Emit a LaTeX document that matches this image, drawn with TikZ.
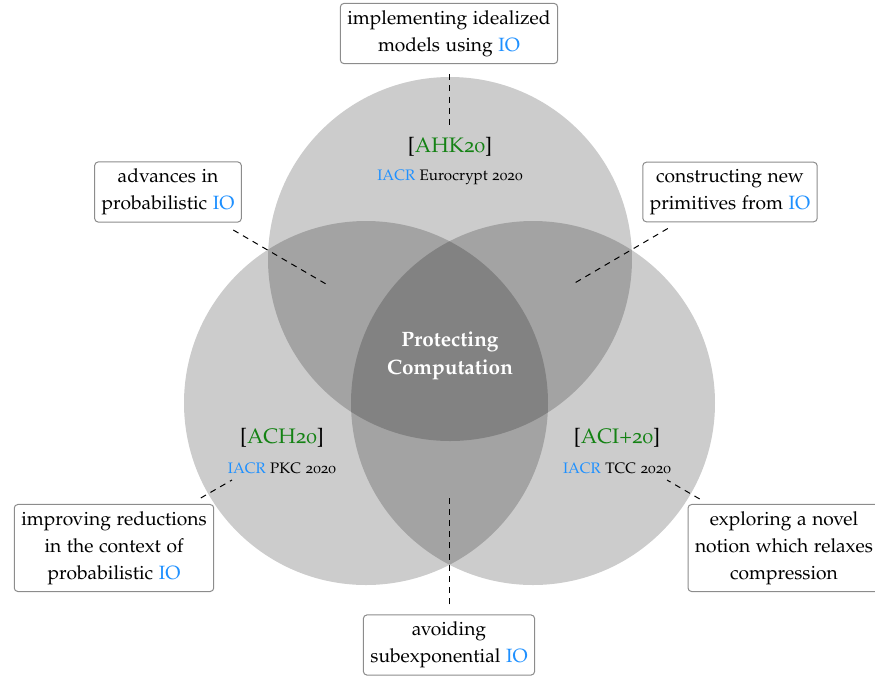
\documentclass[tikz,border=0pt]{standalone}
\usepackage[T1]{fontenc}
\usepackage[osf]{mathpazo}
\linespread{1.05}
\definecolor{linkblue}{RGB}{30,144,255}
\definecolor{refgreen}{RGB}{20,130,20}
\definecolor{boxgray}{RGB}{140,140,140}
\newcommand{\io}[1][IO]{\textcolor{linkblue}{#1}}
\tikzset{
  venn/.style={fill=black,fill opacity=0.2,draw=none},
  notebox/.style={draw=boxgray,line width=0.5pt,rounded corners=1.8pt,fill=white,
    align=center,inner xsep=3.5pt,inner ysep=3.5pt,
    font=\fontsize{9.6}{12.8}\selectfont},
  reflabel/.style={font=\fontsize{10.5}{12}\selectfont,inner sep=0pt},
  venue/.style={font=\fontsize{7.6}{9}\selectfont,inner sep=0pt},
  centrelabel/.style={text=white,align=center,font=\fontsize{10.4}{13.5}\selectfont\bfseries},
  lead/.style={dashed,line width=0.5pt,dash pattern=on 3pt off 2.6pt},
}
\begin{document}
\begin{tikzpicture}[x=0.5pt,y=-0.5pt]
\useasboundingbox (0,0) rectangle (875,677);
\clip (0,0) rectangle (875,677);

% the three overlapping discs
\path[venn] (450,259) circle[radius=182];
\path[venn] (366,403) circle[radius=182];
\path[venn] (533,403) circle[radius=182];

% centre title
\node[centrelabel] (centre) at (450,356) {Protecting\\Computation};

% publication labels
\node[reflabel] (ahk) at (450,147) {[\textcolor{refgreen}{AHK20}]};
\node[venue] (ahkv) at (450,177) {\io[IACR] Eurocrypt 2020};
\node[reflabel] (ach) at (282,438) {[\textcolor{refgreen}{ACH20}]};
\node[venue] (achv) at (282,468) {\io[IACR] PKC 2020};
\node[reflabel] (aci) at (617,438) {[\textcolor{refgreen}{ACI+20}]};
\node[venue] (aciv) at (617,468) {\io[IACR] TCC 2020};

% note boxes
\node[notebox] (idealized) at (449,33.5) {implementing idealized\\models using \io};
\node[notebox] (advances) at (168,192) {advances in\\probabilistic \io};
\node[notebox] (newprim) at (730,192) {constructing new\\primitives from \io};
\node[notebox] (reductions) at (114,548) {improving reductions\\in the context of\\probabilistic \io};
\node[notebox] (novel) at (784,548) {exploring a novel\\notion which relaxes\\compression};
\node[notebox] (subexp) at (449,645) {avoiding\\subexponential \io};

% end points of the leader lines
\coordinate (pinTop) at (449,128);
\coordinate (pinTL) at (326,284);
\coordinate (pinTR) at (573,284);
\coordinate (pinL) at (232,480);
\coordinate (pinR) at (667,480);
\coordinate (pinB) at (449,498);

% leader lines
\draw[lead,shorten <=5pt] (idealized) -- (pinTop);
\draw[lead,shorten <=7.4pt] (advances) -- (pinTL);
\draw[lead,shorten <=6.1pt] (newprim) -- (pinTR);
\draw[lead,shorten <=6pt] (reductions) -- (pinL);
\draw[lead,shorten <=5pt] (novel) -- (pinR);
\draw[lead,shorten <=5pt] (subexp) -- (pinB);
\end{tikzpicture}
\end{document}
